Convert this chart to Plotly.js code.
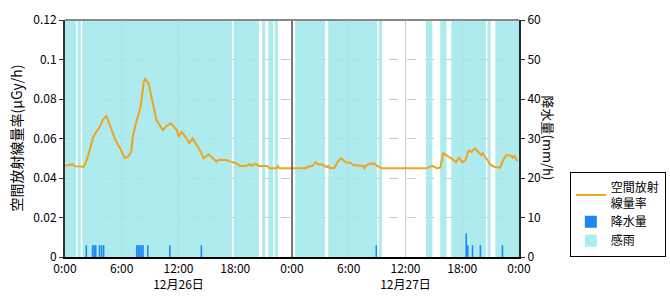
<!DOCTYPE html>
<html>
<head>
<meta charset="utf-8">
<script src="https://cdn.plot.ly/plotly-3.0.1.min.js"></script>
<style>html,body{margin:0;padding:0;background:#fff;}#chart{width:670px;height:300px;}</style>
</head>
<body>
<div id="chart"></div>
<script>
// ---- data ----
const day1 = "2024-12-26";
const day2 = "2024-12-27";
const day3 = "2024-12-28";

// 空間放射線量率 (μGy/h)
const doseTime = [
  day1+" 00:00", day1+" 00:50", day1+" 01:00", day1+" 01:30", day1+" 02:00", day1+" 02:20", day1+" 02:40",
  day1+" 03:00", day1+" 03:20", day1+" 03:40", day1+" 04:00", day1+" 04:20", day1+" 04:30", day1+" 04:50",
  day1+" 05:20", day1+" 05:50", day1+" 06:10", day1+" 06:20", day1+" 06:40", day1+" 07:00", day1+" 07:10",
  day1+" 07:30", day1+" 08:00", day1+" 08:20", day1+" 08:30", day1+" 08:40", day1+" 08:50", day1+" 09:20",
  day1+" 09:40", day1+" 10:00", day1+" 10:20", day1+" 10:40", day1+" 11:10", day1+" 11:30", day1+" 11:50",
  day1+" 12:00", day1+" 12:20", day1+" 12:50", day1+" 13:10", day1+" 13:30", day1+" 13:50", day1+" 14:20",
  day1+" 14:40", day1+" 15:10", day1+" 15:40", day1+" 16:00", day1+" 16:10", day1+" 17:00", day1+" 17:30",
  day1+" 18:10", day1+" 18:30", day1+" 19:10", day1+" 19:30", day1+" 19:40", day1+" 20:10", day1+" 20:30",
  day1+" 21:20", day1+" 21:40", day1+" 22:20", day1+" 22:30", day1+" 22:40",
  day2+" 01:30", day2+" 01:40", day2+" 02:10", day2+" 02:30", day2+" 02:40", day2+" 03:20", day2+" 03:40",
  day2+" 03:50", day2+" 04:00", day2+" 04:30", day2+" 04:50", day2+" 05:10", day2+" 05:20", day2+" 05:40",
  day2+" 06:10", day2+" 06:30", day2+" 07:30", day2+" 07:40", day2+" 07:50", day2+" 08:10", day2+" 08:40",
  day2+" 09:00", day2+" 09:30", day2+" 14:10", day2+" 14:50", day2+" 15:20", day2+" 15:40", day2+" 16:00",
  day2+" 16:30", day2+" 17:00", day2+" 17:20", day2+" 17:40", day2+" 18:00", day2+" 18:20", day2+" 18:40",
  day2+" 19:00", day2+" 19:10", day2+" 19:20", day2+" 19:40", day2+" 20:00", day2+" 20:10", day2+" 20:30",
  day2+" 21:00", day2+" 21:20", day2+" 22:00", day2+" 22:20", day2+" 22:40", day2+" 23:10", day2+" 23:20",
  day2+" 23:30", day2+" 23:50"
];
const doseValue = [
  0.0462, 0.0470, 0.0460, 0.0457, 0.0457, 0.0495, 0.0558,
  0.0609, 0.0634, 0.0660, 0.0694, 0.0714, 0.0699, 0.0660,
  0.0592, 0.0550, 0.0516, 0.0500, 0.0508, 0.0533, 0.0609,
  0.0677, 0.0761, 0.0888, 0.0905, 0.0888, 0.0880, 0.0761,
  0.0694, 0.0668, 0.0643, 0.0660, 0.0677, 0.0660, 0.0643,
  0.0609, 0.0634, 0.0601, 0.0576, 0.0601, 0.0576, 0.0533,
  0.0500, 0.0520, 0.0500, 0.0483, 0.0491, 0.0491, 0.0483,
  0.0474, 0.0461, 0.0461, 0.0471, 0.0462, 0.0471, 0.0461,
  0.0461, 0.0449, 0.0449, 0.0461, 0.0449,
  0.0449, 0.0457, 0.0461, 0.0480, 0.0471, 0.0466, 0.0454,
  0.0461, 0.0449, 0.0452, 0.0483, 0.0500, 0.0495, 0.0480,
  0.0477, 0.0466, 0.0461, 0.0449, 0.0464, 0.0472, 0.0474,
  0.0461, 0.0449, 0.0449, 0.0461, 0.0449, 0.0452, 0.0525,
  0.0511, 0.0495, 0.0480, 0.0503, 0.0480, 0.0491, 0.0538,
  0.0533, 0.0542, 0.0550, 0.0533, 0.0516, 0.0525, 0.0500,
  0.0466, 0.0457, 0.0452, 0.0491, 0.0516, 0.0513, 0.0503,
  0.0513, 0.0486
];

// 降水量 (mm/h), 10-minute slots (slot centres)
const rainTime = [
  day1+" 02:15", day1+" 02:55", day1+" 03:05", day1+" 03:15", day1+" 03:39", day1+" 03:52", day1+" 04:05",
  day1+" 07:35", day1+" 07:45", day1+" 07:55", day1+" 08:05", day1+" 08:15", day1+" 08:45", day1+" 11:05",
  day1+" 14:25",
  day2+" 08:55", day2+" 18:25", day2+" 18:35", day2+" 19:05", day2+" 19:55", day2+" 22:15"
];
const rainValue = [
  3, 3, 3, 3, 3, 3, 3,
  3, 3, 3, 3, 3, 3, 3,
  3,
  3, 6, 3, 3, 3, 3
];

// 感雨 (rain sensing) intervals
const senseStart = [
  day1+" 00:00", day1+" 01:20", day1+" 01:50", day1+" 17:50", day1+" 20:50", day1+" 21:30", day1+" 22:10",
  day2+" 00:20", day2+" 03:50", day2+" 09:10", day2+" 14:10", day2+" 15:40", day2+" 16:50", day2+" 20:40", day2+" 21:30"
];
const senseEnd = [
  day1+" 01:10", day1+" 01:40", day1+" 17:40", day1+" 20:30", day1+" 21:10", day1+" 22:00", day1+" 22:30",
  day2+" 03:30", day2+" 09:00", day2+" 09:30", day2+" 14:50", day2+" 16:20", day2+" 20:30", day2+" 21:00", day3+" 00:00"
];

// axis ticks
const tickVals = [
  day1+" 00:00", day1+" 06:00", day1+" 12:00", day1+" 18:00",
  day2+" 00:00", day2+" 06:00", day2+" 12:00", day2+" 18:00", day3+" 00:00"
];
const tickText = [
  "0:00", "6:00", "12:00<br>12月26日", "18:00",
  "0:00", "6:00", "12:00<br>12月27日", "18:00", "0:00"
];
const dayBoundary = day2+" 00:00";

// ---- build ----
function ms(s){ return new Date(s.replace(" ","T")+":00Z").getTime(); }
function iso(t){ const d=new Date(t); return d.toISOString().slice(0,19).replace("T"," "); }
const senseMid = senseStart.map((s,i)=>iso((ms(s)+ms(senseEnd[i]))/2));
const senseWidth = senseStart.map((s,i)=>ms(senseEnd[i])-ms(s));
const senseY = senseStart.map(()=>60);
const rainWidth = rainTime.map(()=>10*60*1000);

const FONT = '"Noto Sans CJK JP", "DejaVu Sans", sans-serif';

const traces = [
  {
    type: 'bar', name: '感雨', x: senseMid, y: senseY, width: senseWidth,
    xaxis: 'x', yaxis: 'y',
    marker: {color: 'rgb(160,232,236)', line: {width: 0}}, opacity: 0.86,
    hoverinfo: 'skip', legendrank: 3
  },
  {
    type: 'bar', name: '降水量', x: rainTime, y: rainValue, width: rainWidth,
    xaxis: 'x', yaxis: 'y',
    marker: {color: '#1E88F0', line: {width: 0}},
    legendrank: 2
  },
  {
    type: 'scatter', mode: 'lines', name: '空間放射<br>線量率', x: doseTime, y: doseValue,
    xaxis: 'x', yaxis: 'y2',
    line: {color: '#F0A41E', width: 2},
    legendrank: 1
  }
];

const layout = {
  width: 670, height: 300,
  margin: {l: 65, r: 151, t: 20, b: 43, pad: 0, autoexpand: false},
  paper_bgcolor: '#fff', plot_bgcolor: '#fff',
  font: {family: FONT, size: 12, color: '#000'},
  barmode: 'overlay',
  showlegend: true,
  legend: {
    x: 1.112, xanchor: 'left', y: 0, yanchor: 'bottom',
    bordercolor: '#000', borderwidth: 1, bgcolor: '#fff',
    font: {family: FONT, size: 12, color: '#000'},
    itemwidth: 30
  },
  xaxis: {
    type: 'date',
    range: [day1+" 00:00", day3+" 00:00"],
    tickmode: 'array', tickvals: tickVals, ticktext: tickText,
    showgrid: true, gridcolor: '#c8c8c8', gridwidth: 1,
    showline: true, linecolor: '#000', linewidth: 2,
    ticks: '', zeroline: false, fixedrange: true,
    tickfont: {family: FONT, size: 12, color: '#000'}
  },
  yaxis: {
    side: 'right', range: [0, 60], dtick: 10, tick0: 0,
    showgrid: true, gridcolor: '#c8c8c8', griddash: 'dash', gridwidth: 1,
    showline: true, linecolor: '#1c2a2a', linewidth: 2,
    ticks: 'outside', ticklen: 4, tickcolor: '#333',
    zeroline: false, fixedrange: true,
    tickfont: {family: FONT, size: 12, color: '#000'}
  },
  yaxis2: {
    overlaying: 'y', side: 'left', range: [0, 0.12], dtick: 0.02, tick0: 0,
    showgrid: false, showline: true, linecolor: '#333', linewidth: 2,
    ticks: 'outside', ticklen: 4, tickcolor: '#333',
    zeroline: false, fixedrange: true,
    tickfont: {family: FONT, size: 12, color: '#000'}
  },
  shapes: [
    {type: 'line', xref: 'x', yref: 'paper', x0: dayBoundary, x1: dayBoundary, y0: 0, y1: 1,
     line: {color: '#4a5555', width: 1.5}},
    {type: 'line', xref: 'paper', yref: 'paper', x0: 0, x1: 1, y0: 1, y1: 1,
     line: {color: '#888', width: 2}}
  ],
  annotations: [
    {text: '空間放射線量率(μGy/h)', xref: 'paper', yref: 'paper', x: -0.11, y: 0.5,
     xanchor: 'center', yanchor: 'middle', textangle: -90, showarrow: false,
     font: {family: FONT, size: 14, color: '#000'}},
    {text: '降水量(mm/h)', xref: 'paper', yref: 'paper', x: 1.066, y: 0.5,
     xanchor: 'center', yanchor: 'middle', textangle: 90, showarrow: false,
     font: {family: FONT, size: 13, color: '#000'}}
  ]
};

Plotly.newPlot('chart', traces, layout, {displayModeBar: false, staticPlot: true});
</script>
</body>
</html>
